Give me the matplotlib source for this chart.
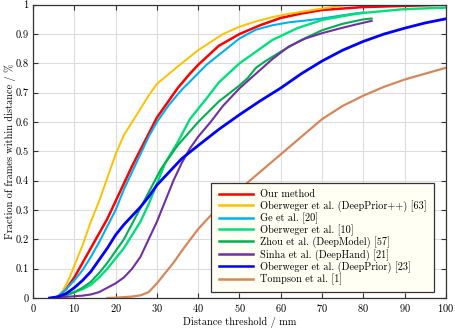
import matplotlib
matplotlib.use("Agg")
import matplotlib.pyplot as plt
from matplotlib.ticker import FuncFormatter

plt.rcParams['font.family'] = ['cmr10', 'DejaVu Serif']
plt.rcParams['axes.formatter.use_mathtext'] = True
plt.rcParams['mathtext.fontset'] = 'cm'

# ---- data ----
ours_x = [5, 6, 8, 10, 12, 14, 16, 18, 20, 22, 24, 26, 28, 30, 32, 35, 38, 40, 45, 50, 55, 60, 65, 70, 80, 90, 100]
ours_y = [0, 0.005, 0.03, 0.07, 0.12, 0.17, 0.22, 0.27, 0.33, 0.39, 0.45, 0.505, 0.56, 0.615, 0.655, 0.715, 0.765, 0.795, 0.86, 0.9, 0.93, 0.955, 0.97, 0.982, 0.992, 0.996, 1.0]

dpp_x = [5.5, 6, 7, 8, 9, 10, 12, 14, 16, 18, 20, 22, 24, 26, 28, 30, 33, 36, 40, 46, 50, 54, 58, 62, 66, 70, 75]
dpp_y = [0, 0.005, 0.02, 0.045, 0.075, 0.11, 0.18, 0.26, 0.33, 0.41, 0.49, 0.555, 0.6, 0.645, 0.69, 0.73, 0.765, 0.8, 0.845, 0.9, 0.925, 0.943, 0.958, 0.969, 0.978, 0.987, 0.997]

ge_x = [5, 6, 8, 10, 12, 14, 16, 18, 20, 22, 24, 26, 28, 30, 33, 36, 38, 42, 46, 50, 54, 58, 62, 66, 70, 75, 80]
ge_y = [0, 0.005, 0.03, 0.06, 0.095, 0.14, 0.19, 0.245, 0.3, 0.37, 0.43, 0.49, 0.55, 0.6, 0.66, 0.71, 0.738, 0.795, 0.84, 0.885, 0.915, 0.93, 0.94, 0.946, 0.953, 0.964, 0.974]

ob10_x = [5, 8, 10, 12, 14, 16, 18, 20, 22, 24, 26, 28, 30, 32, 35, 38, 42, 45, 50, 55, 58, 64, 70, 77, 80, 90, 100]
ob10_y = [0, 0.01, 0.02, 0.03, 0.045, 0.07, 0.1, 0.135, 0.17, 0.215, 0.26, 0.32, 0.39, 0.46, 0.53, 0.61, 0.68, 0.735, 0.8, 0.85, 0.88, 0.92, 0.948, 0.966, 0.972, 0.985, 0.99]

zhou_x = [5, 8, 10, 12, 14, 16, 18, 20, 22, 25, 28, 31, 35, 40, 45, 50, 52, 54, 56, 60, 65, 70, 75, 80, 82]
zhou_y = [0, 0.01, 0.02, 0.035, 0.055, 0.085, 0.12, 0.16, 0.2, 0.28, 0.36, 0.44, 0.52, 0.6, 0.67, 0.725, 0.75, 0.785, 0.805, 0.84, 0.88, 0.913, 0.935, 0.95, 0.953]

sinha_x = [4, 6, 8, 10, 12, 14, 16, 18, 20, 22, 24, 26, 28, 30, 32, 34, 36, 38, 40, 43, 46, 50, 54, 58, 62, 66, 70, 74, 78, 82]
sinha_y = [0, 0.002, 0.004, 0.006, 0.008, 0.012, 0.02, 0.035, 0.05, 0.07, 0.1, 0.14, 0.2, 0.26, 0.33, 0.4, 0.46, 0.51, 0.55, 0.6, 0.655, 0.715, 0.765, 0.815, 0.858, 0.885, 0.903, 0.918, 0.932, 0.945]

dp_x = [4, 6, 8, 10, 12, 14, 16, 18, 20, 22, 24, 26, 28, 30, 33, 36, 40, 45, 50, 55, 60, 65, 70, 75, 80, 85, 90, 95, 100]
dp_y = [0, 0.004, 0.015, 0.035, 0.06, 0.09, 0.13, 0.17, 0.215, 0.25, 0.28, 0.31, 0.345, 0.385, 0.43, 0.475, 0.52, 0.575, 0.625, 0.672, 0.716, 0.765, 0.808, 0.845, 0.875, 0.9, 0.92, 0.938, 0.952]

tomp_x = [18, 20, 22, 24, 26, 28, 30, 32, 34, 36, 38, 40, 42, 45, 50, 55, 60, 65, 70, 75, 80, 85, 90, 95, 100]
tomp_y = [0, 0.001, 0.003, 0.005, 0.009, 0.02, 0.05, 0.085, 0.12, 0.16, 0.198, 0.235, 0.266, 0.31, 0.37, 0.43, 0.49, 0.55, 0.61, 0.655, 0.69, 0.72, 0.745, 0.765, 0.785]

labels = ["Our method",
          "Oberweger et al. (DeepPrior++) [63]",
          "Ge et al. [20]",
          "Oberweger et al. [10]",
          "Zhou et al. (DeepModel) [57]",
          "Sinha et al. (DeepHand) [21]",
          "Oberweger et al. (DeepPrior) [23]",
          "Tompson et al. [1]"]

x_ticks = [0, 10, 20, 30, 40, 50, 60, 70, 80, 90, 100]
y_ticks = [0, 0.1, 0.2, 0.3, 0.4, 0.5, 0.6, 0.7, 0.8, 0.9, 1.0]

series = [(ours_x, ours_y, '#ff0000', 1.8),
          (dpp_x, dpp_y, '#ffc000', 1.4),
          (ge_x, ge_y, '#00b0f0', 1.5),
          (ob10_x, ob10_y, '#00e07a', 1.7),
          (zhou_x, zhou_y, '#00b050', 1.5),
          (sinha_x, sinha_y, '#7030a0', 1.5),
          (dp_x, dp_y, '#0000ff', 2.0),
          (tomp_x, tomp_y, '#d4875a', 1.6)]

W, H = 456, 332
fig = plt.figure(figsize=(W / 100, H / 100), dpi=100)
ax = fig.add_axes([0.0724, 0.1024, 0.9056, 0.8834])

for (xs, ys, c, lw), lab in zip(series, labels):
    ax.plot(xs, ys, color=c, lw=lw, label=lab, solid_joinstyle='round')

ax.set_xlim(0, 100)
ax.set_ylim(0, 1)
ax.set_xticks(x_ticks)
ax.set_yticks(y_ticks)
ax.yaxis.set_major_formatter(FuncFormatter(lambda v, p: '0' if v == 0 else ('1' if v == 1 else f'{v:.1f}')))
ax.grid(True, color='#dcdcdc', lw=0.8)
ax.set_axisbelow(True)
for s in ax.spines.values():
    s.set_color('#333333')
    s.set_linewidth(0.9)
ax.tick_params(direction='in', top=True, right=True, length=3.5, width=0.8,
               color='#333333', labelsize=7.5, pad=3)

ax.set_xlabel('Distance threshold / mm', fontsize=7.4, labelpad=2)
fig.text(10 / W, 1 - 151 / H, 'Fraction of frames within distance / %', fontsize=7.4,
         rotation=90, ha='center', va='center')

leg = ax.legend(loc='lower right', bbox_to_anchor=(0.97, 0.02), fontsize=7.4,
                fancybox=False, framealpha=1, facecolor='#fffff4', edgecolor='#333333',
                handlelength=3.3, labelspacing=0.05, borderpad=0.7, handletextpad=0.7,
                borderaxespad=0)
leg.get_frame().set_linewidth(0.9)
for l in leg.get_lines():
    l.set_linewidth(1.8)

fig.savefig('out.png', dpi=100)
